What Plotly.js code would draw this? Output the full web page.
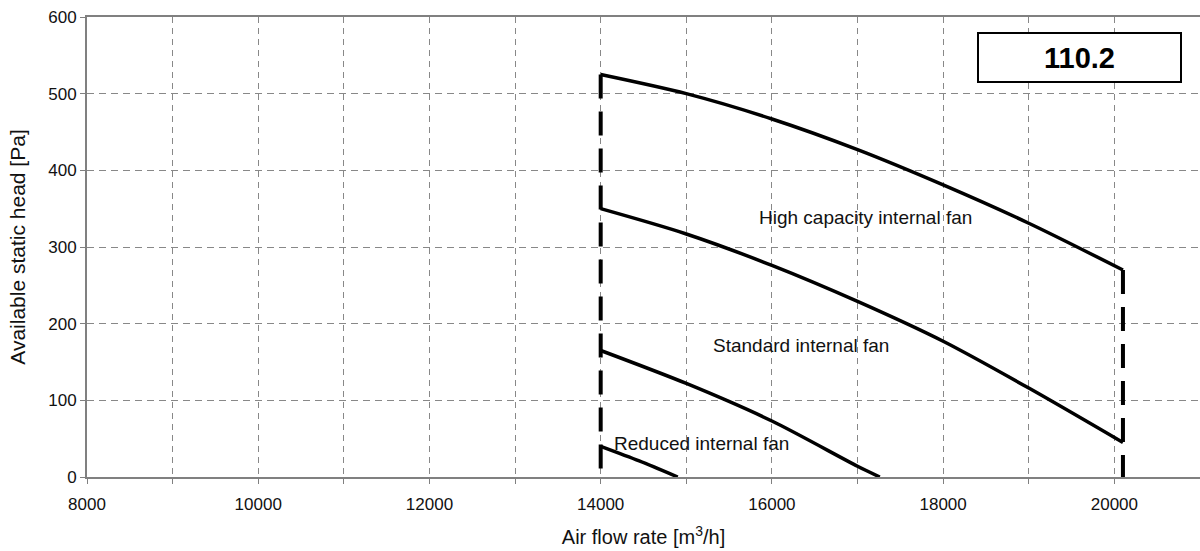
<!DOCTYPE html>
<html>
<head>
<meta charset="utf-8">
<script src="https://cdn.plot.ly/plotly-3.0.1.min.js"></script>
<style>html,body{margin:0;padding:0;background:#fff;}#chart{width:1200px;height:551px;}</style>
</head>
<body>
<div id="chart"></div>
<script>
// Data
const flowHigh = [14000, 15000, 16000, 17000, 18000, 19000, 20100];
const headHigh = [525, 500, 467, 427, 381, 331, 270];
const flowStd = [14000, 15000, 16000, 17000, 18000, 19000, 20100];
const headStd = [350, 317, 276, 229, 177, 116, 45];
const flowRed = [14000, 15000, 16000, 17000, 17260];
const headRed = [165, 122, 73, 14, 0];
const flowLow = [14000, 14450, 14900];
const headLow = [40, 21, 0];
const limitFlowMin = [14000, 14000];
const limitHeadMin = [525, 0];
const limitFlowMax = [20100, 20100];
const limitHeadMax = [270, 0];
const xTickStep = 2000;
const xGridStep = 1000;
const yTickVals = [0, 100, 200, 300, 400, 500, 600];
const curveLabels = ['High capacity internal fan', 'Standard internal fan', 'Reduced internal fan'];
const modelLabel = '110.2';

const font = 'Arial, "Liberation Sans", Helvetica, sans-serif';
const curve = {color: '#000', width: 3.5, shape: 'spline', smoothing: 0.8};
const limit = {color: '#000', width: 4, dash: '24px,13px'};

const traces = [
  {x: flowHigh, y: headHigh, mode: 'lines', line: curve, hoverinfo: 'skip'},
  {x: flowStd, y: headStd, mode: 'lines', line: curve, hoverinfo: 'skip'},
  {x: flowRed, y: headRed, mode: 'lines', line: curve, hoverinfo: 'skip'},
  {x: flowLow, y: headLow, mode: 'lines', line: curve, hoverinfo: 'skip'},
  {x: limitFlowMin, y: limitHeadMin, mode: 'lines', line: limit, hoverinfo: 'skip'},
  {x: limitFlowMax, y: limitHeadMax, mode: 'lines', line: limit, hoverinfo: 'skip'}
];

const gridCol = '#888888';
const layout = {
  width: 1200, height: 551,
  margin: {l: 87, r: 0, t: 17, b: 74},
  paper_bgcolor: '#fff', plot_bgcolor: '#fff',
  showlegend: false,
  font: {family: font, color: '#111'},
  xaxis: {
    range: [8000, 21000],
    tick0: 8000, dtick: xTickStep, tickformat: 'd',
    showgrid: true, gridcolor: gridCol, gridwidth: 1, griddash: '6px,5px',
    minor: {tick0: 8000, dtick: xGridStep, showgrid: true, gridcolor: gridCol, gridwidth: 1, griddash: '6px,5px',
            ticks: 'outside', ticklen: 5, tickcolor: '#808080', tickwidth: 1},
    showline: true, linecolor: '#808080', linewidth: 2, mirror: true,
    ticks: 'outside', ticklen: 5, tickcolor: '#808080', tickwidth: 1,
    ticklabelstandoff: 6,
    tickfont: {size: 17, family: font, color: '#111'},
    zeroline: false,
    title: {text: 'Air flow rate [m<sup>3</sup>/h]', font: {size: 20, family: font, color: '#111'}, standoff: 17}
  },
  yaxis: {
    range: [0, 600],
    tickvals: yTickVals,
    showgrid: true, gridcolor: gridCol, gridwidth: 1, griddash: '7px,5px',
    showline: true, linecolor: '#808080', linewidth: 2,
    ticks: 'outside', ticklen: 5, tickcolor: '#808080', tickwidth: 1,
    tickfont: {size: 17, family: font, color: '#111'},
    zeroline: false,
    title: {text: 'Available static head [Pa]', font: {size: 21, family: font, color: '#111'}, standoff: 17}
  },
  annotations: [
    {x: 17098, y: 339, xref: 'x', yref: 'y', text: curveLabels[0], showarrow: false, font: {size: 19, family: font, color: '#111'}},
    {x: 16339, y: 172, xref: 'x', yref: 'y', text: curveLabels[1], showarrow: false, font: {size: 19, family: font, color: '#111'}},
    {x: 15183, y: 44, xref: 'x', yref: 'y', text: curveLabels[2], showarrow: false, font: {size: 19, family: font, color: '#111'}},
    {x: 19587, y: 547, xref: 'x', yref: 'y', text: '<b>' + modelLabel + '</b>', showarrow: false,
     width: 201, height: 47, bgcolor: '#fff', bordercolor: '#000', borderwidth: 2, borderpad: 0,
     font: {size: 29, family: font, color: '#000'}}
  ]
};

Plotly.newPlot('chart', traces, layout, {displayModeBar: false, staticPlot: true});
</script>
</body>
</html>
